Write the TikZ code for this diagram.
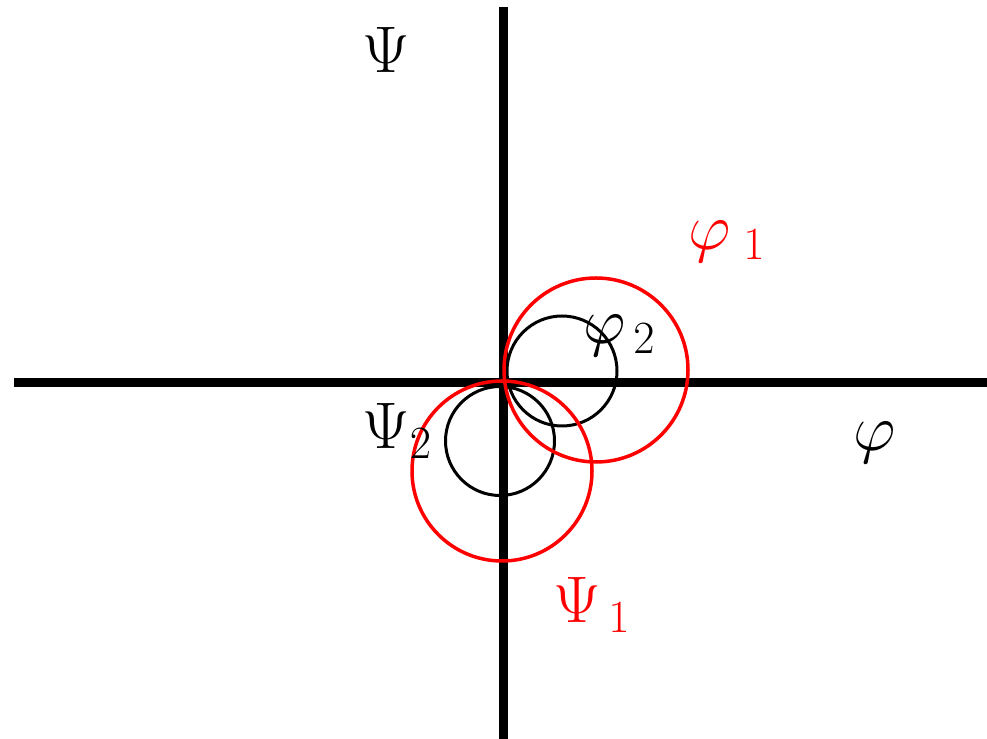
\RequirePackage{fix-cm}
\documentclass[tikz,border=0pt]{standalone}
\usepackage{amsmath,amssymb}
\usepackage{tikz}
\definecolor{CurveRed}{HTML}{FF0000}

\begin{document}
\begin{tikzpicture}[
    axis/.style={line width=0.17cm,black},
    blackloop/.style={line width=0.06cm,black},
    redloop/.style={line width=0.07cm,CurveRed},
    lbl/.style={anchor=base west,inner sep=0pt,font=\fontsize{37.5}{45}\selectfont}]
        \useasboundingbox (0,0) rectangle (19.74,14.78);
        \coordinate (L) at (0.28,7.134);
        \coordinate (R) at (19.74,7.134);
        \coordinate (T) at (10.07,14.64);
        \coordinate (D) at (10.07,0);
        \draw[axis] (L)--(R);
        \draw[axis] (T)--(D);
        \draw[blackloop] (11.24,7.36) circle (1.10);
        \draw[blackloop] (10.00,5.96) circle (1.09);
        \draw[redloop] (11.92,7.38) circle (1.84);
        \draw[redloop] (10.04,5.36) circle (1.80);
        \node[lbl] (psiaxis) at (7.24,13.32) {$\Psi$};
        \node[lbl] (phiaxis) at (17.06,5.76) {$\varphi$};
        \node[lbl,CurveRed] (phione) at (13.76,9.78) {$\varphi_{\;1}$};
        \node[lbl] (phitwo) at (11.66,7.90) {$\varphi_{\,2}$};
        \node[lbl,CurveRed] (psione) at (11.06,2.32) {$\Psi_{\,1}$};
        \node[lbl] (psitwo) at (7.24,5.80) {$\Psi_2$};
      \end{tikzpicture}
\end{document}
